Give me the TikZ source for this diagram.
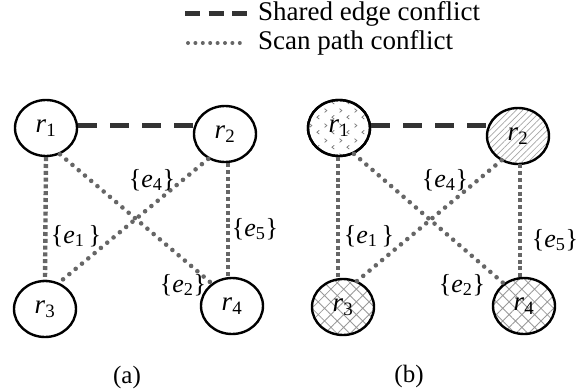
\documentclass[tikz,border=0pt]{standalone}
\usepackage{fontspec}
\setmainfont{Liberation Serif}
\usetikzlibrary{shapes.geometric,patterns.meta}
\pgfdeclarepattern{
  name=chev,
  type=uncolored,
  bottom left={\pgfpoint{0pt}{0pt}},
  top right={\pgfpoint{15pt}{15pt}},
  tile size={\pgfpoint{15pt}{15pt}},
  code={
    \pgfsetlinewidth{0.8pt}
    \pgfpathmoveto{\pgfpoint{4.5pt}{2pt}}\pgfpathlineto{\pgfpoint{2pt}{4pt}}\pgfpathlineto{\pgfpoint{4.5pt}{6pt}}
    \pgfpathmoveto{\pgfpoint{10pt}{9pt}}\pgfpathlineto{\pgfpoint{12.5pt}{11pt}}\pgfpathlineto{\pgfpoint{10pt}{13pt}}
    \pgfusepath{stroke}
  }
}
\definecolor{dotgray}{HTML}{666666}
\definecolor{dashgray}{HTML}{333333}
\tikzset{
  rnode/.style={ellipse,draw=black,line width=2.4pt,inner sep=0pt,minimum width=62pt,minimum height=56pt,
    font=\fontsize{27}{30}\selectfont},
  shared/.style={draw=dashgray,line width=5pt,dash pattern=on 19pt off 13pt},
  vscan/.style={draw=dotgray,line width=4.4pt,dash pattern=on 4pt off 2.8pt},
  dscan/.style={draw=dotgray,line width=4.6pt,line cap=round,dash pattern=on 0pt off 8.2pt},
  elabel/.style={font=\fontsize{26}{29}\selectfont,inner sep=0pt},
  legtext/.style={font=\fontsize{27}{30}\selectfont,anchor=west,inner sep=0pt},
  caption/.style={font=\fontsize{25}{28}\selectfont,inner sep=0pt},
}
\newcommand{\rl}[1]{\textit{r}\textsubscript{#1}}
\newcommand{\el}[1]{\{\textit{e}\textsubscript{#1}\}}
\begin{document}
\begin{tikzpicture}[x=1pt,y=-1pt]
\useasboundingbox (0,0) rectangle (586,391);
% legend
\coordinate (l1a) at (185,13);
\coordinate (l1b) at (247,13);
\coordinate (l2a) at (188,43);
\coordinate (l2b) at (247,43);
\draw[shared,line width=5pt,dash pattern=on 15pt off 8.5pt] (l1a) -- (l1b);
\draw[dscan,line width=4pt,dash pattern=on 0pt off 7.4pt] (l2a) -- (l2b);
\node[legtext] (lt1) at (258,14) {Shared edge conflict};
\node[legtext] (lt2) at (258,43) {Scan path conflict};
% (a)
\node[rnode] (a1) at (46,128) {\rl{1}};
\node[rnode] (a2) at (225,134) {\rl{2}};
\node[rnode] (a3) at (45,309) {\rl{3}};
\node[rnode] (a4) at (232,306) {\rl{4}};
\draw[shared] ([yshift=3pt]a1.east) -- ([yshift=3pt]a1.east -| a2.west);
\draw[vscan] (a1.south) -- (a3.north);
\draw[vscan] ([xshift=3pt]a2.south) -- ([xshift=-4pt]a4.north);
\draw[dscan] (a1.-62) -- (a4.132);
\draw[dscan] (a2.236) -- (a3.62);
\node[elabel] (a-e4) at (152,180) {\el{4}};
\node[elabel] (a-e1) at (76,236) {\{\textit{e}\textsubscript{1}\,\}};
\node[elabel] (a-e5) at (255,229) {\el{5}};
\node[elabel] (a-e2) at (183,285) {\el{2}};
\node[caption] (capa) at (127,377) {(a)};
% (b)
\node[rnode,fill=white] (b1) at (339,128) {};
\path[pattern={chev},pattern color=gray] (b1.center) ellipse[x radius=30pt,y radius=27pt];
\node[rnode] at (b1) {\rl{1}};
\node[rnode,pattern={Lines[angle=45,distance=4.5pt,line width=0.7pt]},pattern color=gray!70] (b2) at (518,136) {\rl{2}};
\node[rnode,pattern={Hatch[angle=45,distance=9pt,line width=0.8pt]},pattern color=gray!80] (b3) at (343,307) {\rl{3}};
\node[rnode,pattern={Hatch[angle=45,distance=9pt,line width=0.8pt]},pattern color=gray!80] (b4) at (524,306) {\rl{4}};
\draw[shared] ([yshift=3pt]b1.east) -- ([yshift=3pt]b1.east -| b2.west);
\draw[vscan] ([xshift=-1pt]b1.south) -- ([xshift=-5pt]b3.north);
\draw[vscan] ([xshift=2pt]b2.south) -- ([xshift=-4pt]b4.north);
\draw[dscan] (b1.-60) -- (b4.132);
\draw[dscan] (b2.236) -- (b3.62);
\node[elabel] (b-e4) at (445,180) {\el{4}};
\node[elabel] (b-e1) at (369,236) {\{\textit{e}\textsubscript{1}\,\}};
\node[elabel] (b-e5) at (555,240) {\el{5}};
\node[elabel] (b-e2) at (462,285) {\el{2}};
\node[caption] (capb) at (409,376) {(b)};
\end{tikzpicture}
\end{document}
